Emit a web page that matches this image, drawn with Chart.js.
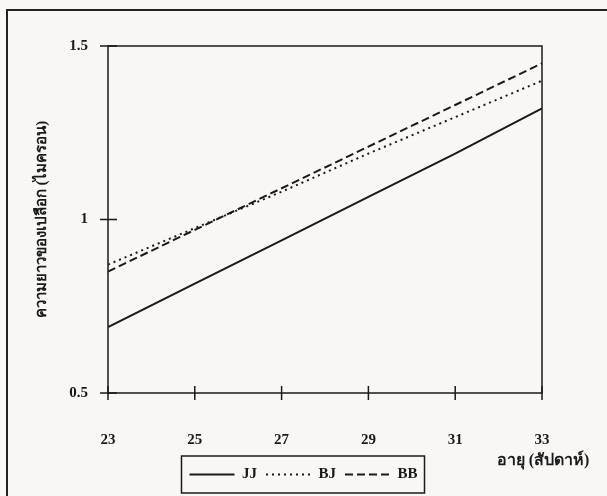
<!DOCTYPE html>
<html>
<head>
<meta charset="utf-8">
<script src="https://cdn.jsdelivr.net/npm/chart.js@4.4.1/dist/chart.umd.min.js"></script>
<style>
  html, body { margin: 0; padding: 0; background: #f8f7f5; overflow: hidden; }
  #wrap { position: relative; width: 607px; height: 496px; }
  #frame { position: absolute; left: 6px; top: 9px; width: 700px; height: 600px; border: 2px solid #222; }
  canvas { position: absolute; left: 0; top: 0; }
</style>
</head>
<body>
<div id="wrap">
  <div id="frame"></div>
  <canvas id="chart" width="607" height="496"></canvas>
</div>
<script>
// อายุ (สัปดาห์) บนแกน x
const weeks = [23, 25, 27, 29, 31, 33];
// ความยาวของเปลือก อ่านค่าจากภาพ
const seriesJJ = [0.69, 0.815, 0.94, 1.065, 1.19, 1.32];
const seriesBJ = [0.87, 0.975, 1.08, 1.19, 1.295, 1.40];
const seriesBB = [0.85, 0.97, 1.09, 1.21, 1.33, 1.45];
const seriesNames = ['JJ', 'BJ', 'BB'];
const yTicks = [0.5, 1, 1.5];

const INK = '#1a1a1a';
const SERIF = "'Liberation Serif', 'DejaVu Serif', serif";

const pts = vals => weeks.map((w, i) => ({ x: w, y: vals[i] }));

// เส้นขีดแกนที่ตัดผ่านแกน + กรอบพื้นที่กราฟ + กรอบคำอธิบาย + ชื่อแกน x
const decor = {
  id: 'decor',
  afterDraw(chart) {
    const { ctx, chartArea: a, scales: { x, y } } = chart;
    ctx.save();
    ctx.strokeStyle = INK;
    ctx.lineWidth = 1.5;
    ctx.strokeRect(a.left, a.top, a.right - a.left, a.bottom - a.top);
    ctx.beginPath();
    x.ticks.forEach(t => {
      const px = x.getPixelForValue(t.value);
      ctx.moveTo(px, a.bottom - 7); ctx.lineTo(px, a.bottom + 7);
    });
    y.ticks.forEach(t => {
      const py = y.getPixelForValue(t.value);
      ctx.moveTo(a.left - 8, py); ctx.lineTo(a.left + 9, py);
    });
    ctx.stroke();

    const hb = chart.legend.legendHitBoxes;
    if (hb && hb.length) {
      const l = hb[0].left - 8;
      const r = hb[hb.length - 1].left + hb[hb.length - 1].width + 7;
      const t = hb[0].top - 11;
      ctx.strokeRect(l, t, r - l, 37);
    }

    ctx.fillStyle = INK;
    ctx.font = "bold 16px " + SERIF;
    ctx.textAlign = 'center';
    ctx.textBaseline = 'middle';
    ctx.fillText('อายุ (สัปดาห์)', 543, 461);
    ctx.restore();
  }
};

new Chart(document.getElementById('chart'), {
  type: 'line',
  data: {
    datasets: [
      { label: seriesNames[0], data: pts(seriesJJ), borderColor: INK, borderWidth: 2, borderDash: [] },
      { label: seriesNames[1], data: pts(seriesBJ), borderColor: INK, borderWidth: 2, borderDash: [2, 4] },
      { label: seriesNames[2], data: pts(seriesBB), borderColor: INK, borderWidth: 2, borderDash: [8, 4] },
    ],
  },
  options: {
    responsive: false,
    animation: false,
    events: [],
    elements: { point: { radius: 0 }, line: { tension: 0 } },
    layout: { padding: { top: 46, right: 0, left: 0, bottom: 4 } },
    plugins: {
      tooltip: { enabled: false },
      legend: {
        position: 'bottom',
        labels: {
          color: INK,
          font: { family: SERIF, size: 15, weight: 'bold' },
          usePointStyle: true,
          pointStyle: 'line',
          pointStyleWidth: 45,
          padding: 9,
          generateLabels: chart =>
            Chart.defaults.plugins.legend.labels.generateLabels(chart).map(it => ({
              ...it,
              strokeStyle: INK,
              lineWidth: 2,
              lineDash: chart.data.datasets[it.datasetIndex].borderDash,
            })),
        },
      },
    },
    scales: {
      x: {
        type: 'linear',
        min: 23,
        max: 33,
        afterFit: s => { s.height = 65; },
        grid: { display: false, drawTicks: false },
        border: { display: false },
        ticks: {
          stepSize: 2,
          padding: 38,
          color: INK,
          font: { family: SERIF, size: 15, weight: 'bold' },
        },
      },
      y: {
        min: 0.5,
        max: 1.5,
        afterFit: s => { s.width = 108; },
        afterBuildTicks: s => { s.ticks = yTicks.map(v => ({ value: v })); },
        grid: { display: false, drawTicks: false },
        border: { display: false },
        ticks: {
          padding: 20,
          color: INK,
          font: { family: SERIF, size: 15, weight: 'bold' },
          callback: v => String(v),
        },
        title: {
          display: true,
          text: 'ความยาวของเปลือก (ไมครอน)',
          color: INK,
          font: { family: SERIF, size: 15, weight: 'bold' },
          padding: { top: 33, bottom: 0 },
        },
      },
      // แกนว่างด้านขวา กันพื้นที่ให้คำอธิบายอยู่กลางภาพ
      pad: {
        type: 'linear',
        position: 'right',
        display: true,
        afterFit: s => { s.width = 65; },
        grid: { display: false, drawTicks: false },
        border: { display: false },
        ticks: { display: false },
      },
    },
  },
  plugins: [decor],
});
</script>
</body>
</html>
